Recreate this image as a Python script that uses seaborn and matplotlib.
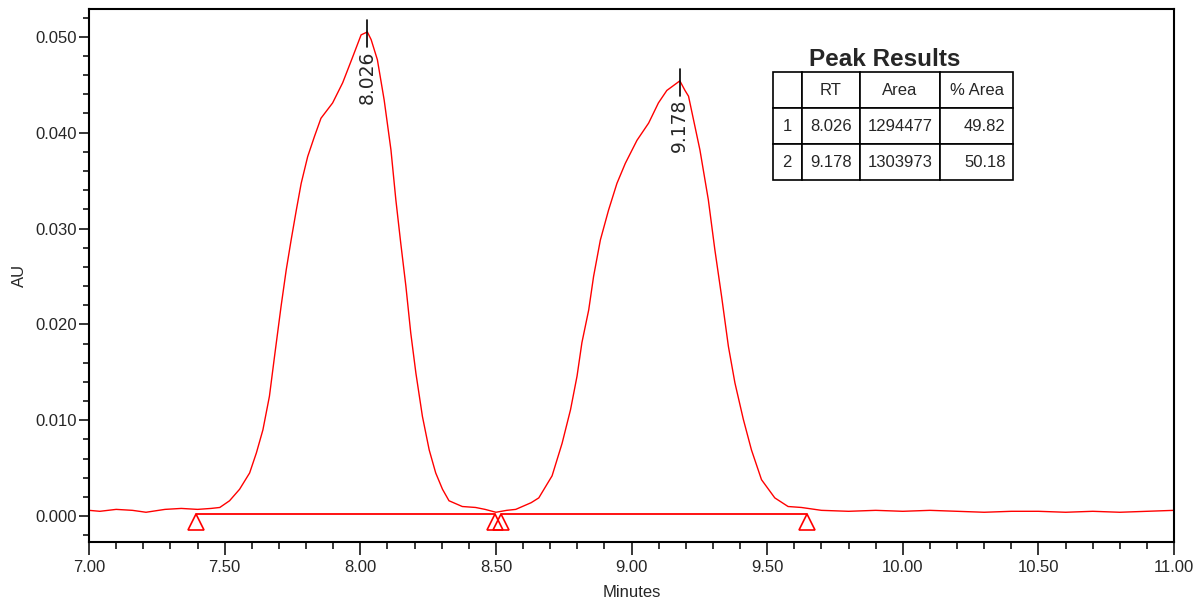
import pandas as pd
import matplotlib.pyplot as plt
import seaborn as sns
from matplotlib.ticker import MultipleLocator, FormatStrFormatter

# chromatogram trace (minutes, AU)
minutes = [7.00, 7.04, 7.10, 7.16, 7.21, 7.28, 7.34, 7.40, 7.45, 7.482,
           7.518, 7.555, 7.592, 7.617, 7.641, 7.665, 7.684, 7.708, 7.727, 7.745,
           7.764, 7.782, 7.806, 7.831, 7.855, 7.898, 7.935, 7.972, 8.003, 8.026,
           8.04, 8.063, 8.088, 8.113, 8.131, 8.149, 8.168, 8.186, 8.205, 8.229,
           8.254, 8.278, 8.303, 8.327, 8.376, 8.425, 8.46, 8.50, 8.54, 8.573,
           8.63, 8.658, 8.707, 8.744, 8.775, 8.799, 8.817, 8.842, 8.860, 8.885,
           8.915, 8.946, 8.977, 9.020, 9.063, 9.099, 9.130, 9.178, 9.197, 9.210,
           9.252, 9.283, 9.307, 9.332, 9.357, 9.381, 9.412, 9.442, 9.479, 9.528,
           9.577, 9.626, 9.70, 9.80, 9.90, 10.00, 10.10, 10.20, 10.30, 10.40,
           10.50, 10.60, 10.70, 10.80, 10.90, 11.00]
au = [0.0006, 0.0005, 0.0007, 0.0006, 0.0004, 0.0007, 0.0008, 0.0007, 0.0008, 0.0009,
      0.0016, 0.0028, 0.0045, 0.0066, 0.0090, 0.0125, 0.0167, 0.0219, 0.0257, 0.0288,
      0.0319, 0.0347, 0.0375, 0.0396, 0.0415, 0.0431, 0.0452, 0.0479, 0.0502, 0.0505,
      0.0497, 0.0476, 0.0434, 0.0382, 0.0330, 0.0285, 0.0240, 0.0191, 0.0149, 0.0104,
      0.0069, 0.0045, 0.0028, 0.0016, 0.0010, 0.0009, 0.0007, 0.0004, 0.0006, 0.0007,
      0.0014, 0.0019, 0.0042, 0.0076, 0.0111, 0.0146, 0.0181, 0.0215, 0.0250, 0.0288,
      0.0319, 0.0347, 0.0368, 0.0392, 0.0410, 0.0431, 0.0444, 0.0454, 0.0444, 0.0438,
      0.0382, 0.0330, 0.0278, 0.0229, 0.0177, 0.0139, 0.0101, 0.0069, 0.0038, 0.0019,
      0.0010, 0.0009, 0.0006, 0.0005, 0.0006, 0.0005, 0.0006, 0.0005, 0.0004, 0.0005,
      0.0005, 0.0004, 0.0005, 0.0004, 0.0005, 0.0006]

# integration baseline: start/end of each peak
base_start = [7.393, 8.518]
base_end = [8.496, 9.647]
base_level = 0.0002

# peak table
peak_no = ["1", "2"]
peak_rt = ["8.026", "9.178"]
peak_area = ["1294477", "1303973"]
peak_pct = ["49.82", "50.18"]
rt_values = [8.026, 9.178]
apex_au = [0.0505, 0.0454]

df = pd.DataFrame({"Minutes": minutes, "AU": au})

sns.set_style("white")
plt.rcParams["font.family"] = ["Liberation Sans", "DejaVu Sans"]

fig = plt.figure(figsize=(12, 6.02), dpi=100)
ax = fig.add_axes([0.0742, 0.0997, 0.9042, 0.8854])

sns.lineplot(data=df, x="Minutes", y="AU", color="#ff0000", lw=1.0, ax=ax)

# baseline segments and triangle markers
for s, e in zip(base_start, base_end):
    ax.plot([s, e], [base_level, base_level], color="#ff0000", lw=1.3)
    ax.plot([s, e], [-0.00066, -0.00066], ls="none", marker="^", ms=12,
            mfc="none", mec="#ff0000", mew=1.2)

# peak apex marks + retention time labels
for rt, top in zip(rt_values, apex_au):
    ax.plot([rt, rt], [top + 0.0012, top - 0.0016], color="black", lw=1.2)
    ax.text(rt, top - 0.0019, f"{rt:.3f}", rotation=90, ha="center", va="top",
            fontsize=13.5, family="DejaVu Sans")

ax.set_xlim(7.0, 11.0)
ax.set_ylim(-0.0027, 0.0529)
ax.xaxis.set_major_locator(MultipleLocator(0.5))
ax.xaxis.set_minor_locator(MultipleLocator(0.1))
ax.yaxis.set_major_locator(MultipleLocator(0.01))
ax.yaxis.set_minor_locator(MultipleLocator(0.002))
ax.xaxis.set_major_formatter(FormatStrFormatter("%.2f"))
ax.yaxis.set_major_formatter(FormatStrFormatter("%.3f"))
ax.tick_params(which="major", direction="out", length=7, width=1.3, labelsize=12,
               bottom=True, left=True, pad=2)
ax.tick_params(axis="x", which="major", length=9, pad=4)
ax.tick_params(which="minor", direction="out", length=4, width=1.3, bottom=True, left=True)
ax.tick_params(axis="x", which="minor", length=5)
for sp in ax.spines.values():
    sp.set_color("black")
    sp.set_linewidth(1.5)

ax.set_xlabel("Minutes", fontsize=12, labelpad=7)
ax.set_ylabel("AU", fontsize=12, labelpad=6)

# peak results table
rows = [[n, r, a, p] for n, r, a, p in zip(peak_no, peak_rt, peak_area, peak_pct)]
tbl = ax.table(cellText=rows, colLabels=["", "RT", "Area", "% Area"],
               colWidths=[29, 59, 82, 74], cellLoc="center",
               bbox=[0.6304, 0.679, 0.2212, 0.2026])
tbl.auto_set_font_size(False)
tbl.set_fontsize(12)
for (r, c), cell in tbl.get_celld().items():
    cell.set_edgecolor("black")
    cell.set_linewidth(1.2)
    if r > 0 and c == 3:
        cell._loc = "right"
        cell.get_text().set_horizontalalignment("right")
ax.text(0.733, 0.905, "Peak Results", transform=ax.transAxes, ha="center",
        va="center", fontsize=17.5, fontweight="bold")

fig.savefig("out.png", dpi=100)
